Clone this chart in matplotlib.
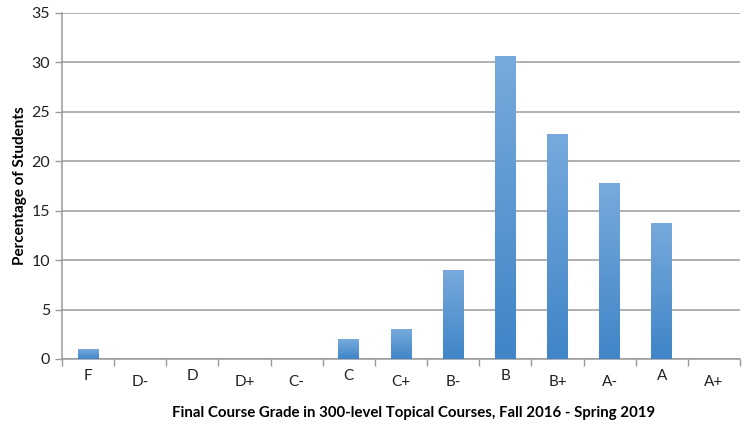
import numpy as np
import matplotlib.pyplot as plt
from matplotlib.colors import LinearSegmentedColormap

# Datos
grades = ['F', 'D-', 'D', 'D+', 'C-', 'C', 'C+', 'B-', 'B', 'B+', 'A-', 'A', 'A+']
percent = [1, 0, 0, 0, 0, 2, 3, 9, 30.7, 22.8, 17.8, 13.8, 0]
yticks = [0, 5, 10, 15, 20, 25, 30, 35]

plt.rcParams['font.family'] = ['Lato', 'DejaVu Sans']

fig = plt.figure(figsize=(7.44, 4.26), dpi=100)
ax = fig.add_axes([0.0833, 0.1573, 0.9113, 0.8122])

x = np.arange(len(grades))
bars = ax.bar(x, percent, width=0.4, color='#5b9bd5', zorder=3)

# degradado vertical dentro de cada barra
cmap = LinearSegmentedColormap.from_list('azul', ['#3f85c7', '#78aadd'])
grad = np.linspace(0, 1, 256).reshape(-1, 1)
for b in bars:
    h = b.get_height()
    if h <= 0:
        continue
    x0 = b.get_x()
    w = b.get_width()
    im = ax.imshow(grad, cmap=cmap, origin='lower', aspect='auto',
                   extent=[x0, x0 + w, 0, h], zorder=4)
    im.set_clip_path(b)

ax.set_xlim(-0.5, len(grades) - 0.5)
ax.set_ylim(0, 35)
ax.set_yticks(yticks)
ax.yaxis.grid(True, color='#9a9a9a', linewidth=1.1, zorder=0)
ax.set_axisbelow(True)

ax.set_xticks(x)
ax.set_xticks(np.arange(len(grades) + 1) - 0.5, minor=True)
ax.set_xticklabels(grades)
ax.tick_params(axis='x', which='major', length=0, pad=7, labelsize=11, labelcolor='#222222')
ax.tick_params(axis='x', which='minor', length=5, color='#9a9a9a', width=1)
ax.tick_params(axis='y', length=5, color='#9a9a9a', width=1, labelsize=11.5, labelcolor='#222222')

# las etiquetas con signo quedan un poco mas abajo
for lab, g in zip(ax.get_xticklabels(), grades):
    if g.endswith('-') or g.endswith('+'):
        lab.set_y(-0.018)

for s in ['top', 'right']:
    ax.spines[s].set_visible(False)
for s in ['left', 'bottom']:
    ax.spines[s].set_color('#9a9a9a')
    ax.spines[s].set_linewidth(1.1)

ax.set_ylabel('Percentage of Students', fontsize=11, fontweight='bold', labelpad=3)
ax.set_xlabel('Final Course Grade in 300-level Topical Courses, Fall 2016 - Spring 2019',
              fontsize=10.8, fontweight='bold')
ax.xaxis.set_label_coords(0.518, -0.135)

fig.savefig('out.png', dpi=100)
